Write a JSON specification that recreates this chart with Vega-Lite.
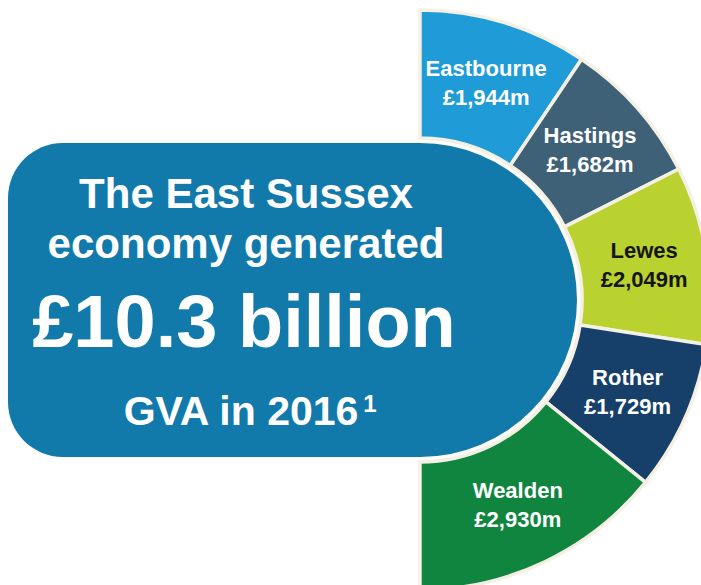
{
  "$schema": "https://vega.github.io/schema/vega-lite/v6.json",
  "width": 560,
  "height": 570,
  "autosize": {"type": "none"},
  "padding": {"left": 140, "top": 15, "right": 1, "bottom": 0},
  "background": "#ffffff",
  "config": {
    "view": {"stroke": null},
    "font": "Liberation Sans",
    "locale": {"number": {"decimal": ".", "thousands": ",", "grouping": [3], "currency": ["£", "m"]}}
  },
  "data": {
    "values": [
      {"district": "Eastbourne", "gva": 1944},
      {"district": "Hastings", "gva": 1682},
      {"district": "Lewes", "gva": 2049},
      {"district": "Rother", "gva": 1729},
      {"district": "Wealden", "gva": 2930}
    ]
  },
  "layer": [
    {
      "data": {"values": [{}]},
      "mark": {"type": "rect", "x": -132, "x2": 281, "y": 128, "y2": 442, "fill": "#1279ab", "cornerRadiusTopLeft": 55, "cornerRadiusBottomLeft": 55},
      "encoding": {}
    },
    {
      "data": {"values": [{}]},
      "mark": {"type": "arc", "theta": 0, "theta2": 3.1416, "outerRadius": 157, "innerRadius": 0, "fill": "#1279ab"},
      "encoding": {}
    },
    {
      "mark": {"type": "arc", "outerRadius": 290, "innerRadius": 162, "stroke": "#f4f0e4", "strokeWidth": 3.5},
      "encoding": {
        "theta": {"field": "gva", "type": "quantitative", "stack": true, "scale": {"range": [0, 3.14159265], "nice": false, "zero": true}},
        "color": {
          "field": "district", "type": "nominal", "legend": null,
          "scale": {"domain": ["Eastbourne", "Hastings", "Lewes", "Rother", "Wealden"], "range": ["#1f9bd7", "#3e6177", "#b9d22f", "#163f69", "#108540"]}
        },
        "order": {"field": "district", "sort": "ascending"}
      }
    },
    {
      "mark": {"type": "text", "radius": 227, "dy": -14, "fontSize": 22, "fontWeight": "bold", "align": "center", "baseline": "middle"},
      "encoding": {
        "theta": {"field": "gva", "type": "quantitative", "stack": true},
        "order": {"field": "district", "sort": "ascending"},
        "text": {"field": "district", "type": "nominal"},
        "color": {"condition": {"test": "datum.district === 'Lewes'", "value": "#151515"}, "value": "#ffffff"}
      }
    },
    {
      "mark": {"type": "text", "radius": 227, "dy": 15, "fontSize": 22, "fontWeight": "bold", "align": "center", "baseline": "middle"},
      "encoding": {
        "theta": {"field": "gva", "type": "quantitative", "stack": true},
        "order": {"field": "district", "sort": "ascending"},
        "text": {"field": "gva", "type": "quantitative", "format": "$,"},
        "color": {"condition": {"test": "datum.district === 'Lewes'", "value": "#151515"}, "value": "#ffffff"}
      }
    },
    {
      "data": {"values": [{}]},
      "mark": {"type": "text", "text": "The East Sussex", "x": 106, "y": 193, "fontSize": 42, "fontWeight": "bold", "align": "center", "baseline": "alphabetic", "color": "#ffffff"},
      "encoding": {}
    },
    {
      "data": {"values": [{}]},
      "mark": {"type": "text", "text": "economy generated", "x": 106, "y": 243, "fontSize": 42, "fontWeight": "bold", "align": "center", "baseline": "alphabetic", "color": "#ffffff"},
      "encoding": {}
    },
    {
      "data": {"values": [{}]},
      "mark": {"type": "text", "text": "£10.3 billion", "x": 104, "y": 332, "fontSize": 74, "fontWeight": "bold", "align": "center", "baseline": "alphabetic", "color": "#ffffff"},
      "encoding": {}
    },
    {
      "data": {"values": [{}]},
      "mark": {"type": "text", "text": "GVA in 2016", "x": 101, "y": 410, "fontSize": 41, "fontWeight": "bold", "align": "center", "baseline": "alphabetic", "color": "#ffffff"},
      "encoding": {}
    },
    {
      "data": {"values": [{}]},
      "mark": {"type": "text", "text": "1", "x": 230, "y": 397, "fontSize": 24, "fontWeight": "bold", "align": "center", "baseline": "alphabetic", "color": "#ffffff"},
      "encoding": {}
    }
  ]
}
